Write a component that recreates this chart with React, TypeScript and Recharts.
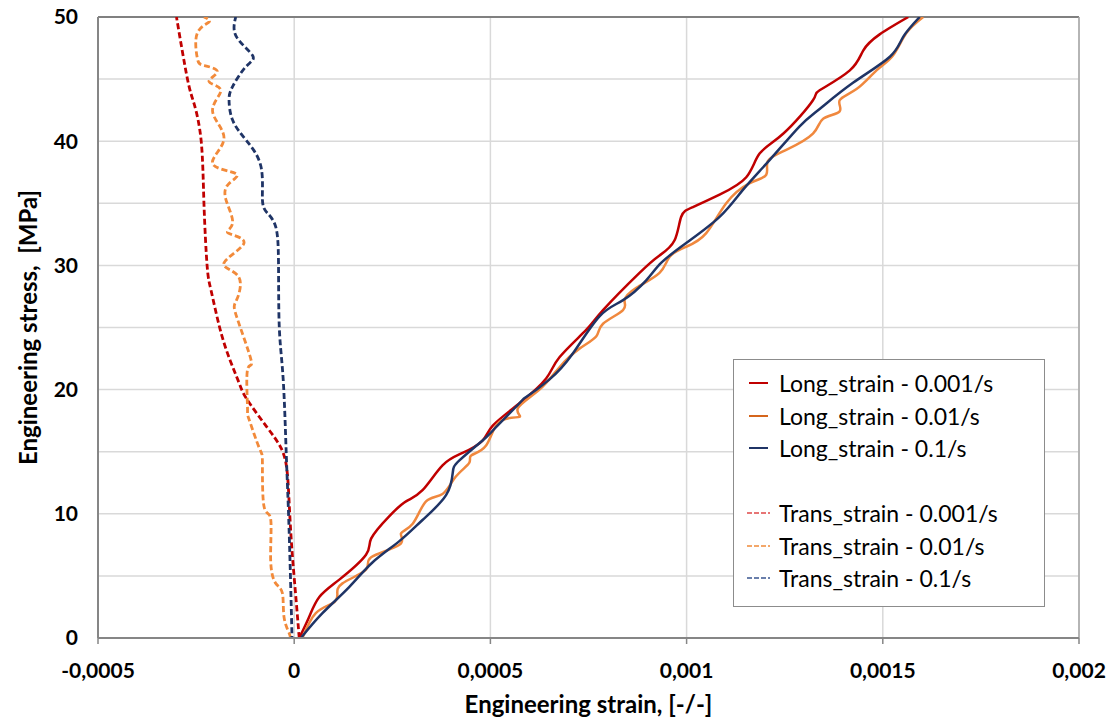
import { LineChart, Line, XAxis, YAxis, CartesianGrid, Legend, ReferenceLine } from 'recharts';

document.body.style.margin = '0';

// [strain, stress]
const longSlow: [number, number][] = [
  [0.0000128, 0], [0.000038, 1.7], [0.000064, 3.3], [0.000115, 4.7], [0.000183, 6.7], [0.000196, 8.0],
  [0.000242, 9.8], [0.000285, 11.0], [0.000327, 11.9], [0.000378, 13.9], [0.000429, 14.9], [0.00048, 15.9],
  [0.000506, 17.1], [0.000574, 18.9], [0.000642, 20.9], [0.000676, 22.6], [0.000744, 24.8], [0.000787, 26.4],
  [0.00088, 29.4], [0.000931, 30.8], [0.000969, 32.0], [0.000986, 33.9], [0.001016, 34.7], [0.001084, 35.7],
  [0.001152, 37.1], [0.001186, 39.0], [0.001246, 40.6], [0.001322, 43.3], [0.001339, 44.1], [0.001416, 45.7],
  [0.00145, 47.3], [0.001492, 48.6], [0.001565, 50],
];

const longMid: [number, number][] = [
  [0.000021, 0], [0.000055, 2.0], [0.000098, 2.8], [0.00011, 3.5], [0.000123, 4.4], [0.000183, 5.5],
  [0.000196, 6.5], [0.000268, 7.5], [0.000272, 8.4], [0.000302, 9.2], [0.000336, 11.0], [0.000378, 11.6],
  [0.000412, 13.0], [0.000446, 14.1], [0.000451, 14.7], [0.000489, 15.5], [0.000523, 17.4], [0.000574, 17.8],
  [0.00057, 18.5], [0.000625, 20.0], [0.000676, 21.8], [0.000727, 23.3], [0.00077, 24.3], [0.000787, 25.3],
  [0.000838, 26.4], [0.000842, 27.2], [0.000872, 28.2], [0.000931, 29.4], [0.000957, 30.7], [0.000999, 31.5],
  [0.00105, 32.6], [0.001101, 35.0], [0.00116, 36.6], [0.001203, 37.3], [0.001207, 38.4], [0.001254, 39.3],
  [0.001322, 40.6], [0.001348, 41.8], [0.00139, 42.4], [0.00139, 43.3], [0.001433, 44.2], [0.001484, 45.7],
  [0.001526, 46.9], [0.00156, 48.7], [0.001603, 50],
];

const longFast: [number, number][] = [
  [0.000017, 0], [0.000072, 2.0], [0.00014, 4.1], [0.0002, 6.1], [0.000268, 7.8], [0.000327, 9.5],
  [0.000387, 11.5], [0.000404, 13.3], [0.000421, 14.3], [0.00048, 15.9], [0.000506, 16.7], [0.000574, 18.9],
  [0.000591, 19.4], [0.00065, 20.8], [0.00071, 22.9], [0.000778, 25.9], [0.000838, 27.2], [0.000897, 28.8],
  [0.000935, 30.2], [0.000999, 31.8], [0.001084, 33.9], [0.001144, 36.1], [0.001212, 38.5], [0.001288, 41.2],
  [0.001339, 42.6], [0.001424, 44.7], [0.001518, 46.8], [0.001552, 48.4], [0.001594, 50],
];

const transSlow: [number, number][] = [
  [0.0000128, 0], [0.000005, 3], [-0.000003, 6], [-0.0000085, 8.4], [-0.000013, 11], [-0.000018, 13.4],
  [-0.000032, 15.2], [-0.00007, 17], [-0.00012, 19.2], [-0.00014, 20.5], [-0.000165, 22.5], [-0.00019, 25],
  [-0.000212, 28], [-0.000222, 30], [-0.00023, 35], [-0.000237, 40], [-0.000255, 43], [-0.000272, 45],
  [-0.0003, 50],
];

const transMid: [number, number][] = [
  [-0.00001, 0], [-0.000013, 0.4], [-0.000026, 1.7], [-0.00003, 3.6], [-0.000047, 4.4], [-0.00006, 6.3],
  [-0.00006, 9.6], [-0.000077, 10.6], [-0.000081, 14.1], [-0.000089, 15.3], [-0.000115, 17.6], [-0.000119, 18.6],
  [-0.000119, 21.6], [-0.00011, 22.4], [-0.000147, 25.9], [-0.000147, 27.2], [-0.000142, 29.1], [-0.000179, 30.2],
  [-0.000128, 31.8], [-0.000168, 32.6], [-0.000157, 33.4], [-0.000174, 35.3], [-0.000166, 36.6], [-0.000149, 37.4],
  [-0.000208, 38.2], [-0.000179, 40.2], [-0.000208, 42.4], [-0.000187, 44.1], [-0.000217, 44.8], [-0.000196, 45.6],
  [-0.00023, 46.1], [-0.000247, 46.7], [-0.000247, 48.7], [-0.000217, 49.6], [-0.00023, 50],
];

const transFast: [number, number][] = [
  [-0.000006, 0], [-0.000006, 0.6], [-0.000013, 8.7], [-0.00002, 14.6], [-0.000028, 20.8], [-0.000038, 25],
  [-0.00004, 30.2], [-0.000047, 33.1], [-0.000068, 34.2], [-0.000081, 35.3], [-0.000085, 38], [-0.000123, 40.1],
  [-0.000157, 41.7], [-0.000166, 43.3], [-0.000157, 44.4], [-0.000123, 46], [-0.000106, 46.9], [-0.000147, 48.4],
  [-0.000149, 50],
];

const xTicks = [-0.0005, 0, 0.0005, 0.001, 0.0015, 0.002];
const yTicks = [0, 5, 10, 15, 20, 25, 30, 35, 40, 45, 50];

const toRows = (pts: [number, number][]) => pts.map(([strain, stress]) => ({ strain, stress }));

const SERIES = [
  { name: 'Long_strain - 0.001/s', data: longSlow, color: '#C00000', swatch: '#C00000', dashed: false },
  { name: 'Long_strain - 0.01/s', data: longMid, color: '#F0883E', swatch: '#D5651C', dashed: false },
  { name: 'Long_strain - 0.1/s', data: longFast, color: '#1F3466', swatch: '#1F3466', dashed: false },
  { name: 'Trans_strain - 0.001/s', data: transSlow, color: '#C00000', swatch: '#E04848', dashed: true },
  { name: 'Trans_strain - 0.01/s', data: transMid, color: '#F28A3A', swatch: '#F08A3A', dashed: true },
  { name: 'Trans_strain - 0.1/s', data: transFast, color: '#1F3466', swatch: '#3A5590', dashed: true },
];

function LegendBox() {
  const row = (s: typeof SERIES[number]) => (
    <div key={s.name} style={{ display: 'flex', alignItems: 'center', height: 32.5 }}>
      <svg width={26} height={10} style={{ marginRight: 6 }}>
        {s.dashed
          ? <line x1={0} y1={5} x2={23} y2={5} stroke={s.swatch} strokeWidth={1.5} strokeDasharray="5 2" />
          : <line x1={2} y1={5} x2={21} y2={5} stroke={s.swatch} strokeWidth={2} />}
      </svg>
      <span>{s.name}</span>
    </div>
  );
  return (
    <div style={{
      width: 312, height: 248, boxSizing: 'border-box', border: '1.5px solid #8C8C8C', background: '#fff',
      padding: '7px 0 0 13px', fontFamily: 'Lato', fontSize: 23, color: '#000',
    }}>
      {SERIES.slice(0, 3).map(row)}
      <div style={{ height: 32.5 }} />
      {SERIES.slice(3).map(row)}
    </div>
  );
}

export default function App() {
  return (
    <div style={{ fontFamily: 'Lato', width: 1112, height: 719 }}>
      <LineChart width={1112} height={719} margin={{ top: 17, right: 33, left: 0, bottom: 0 }}>
        <CartesianGrid stroke="#D9D9D9" strokeWidth={1.5} />
        <XAxis
          type="number" dataKey="strain" domain={[-0.0005, 0.002]} ticks={xTicks} allowDataOverflow
          tickFormatter={(v) => String(v).replace('.', ',')}
          tick={{ fill: '#000', fontSize: 21, fontWeight: 700 }}
          axisLine={{ stroke: '#868686', strokeWidth: 2 }} tickLine={{ stroke: '#868686', strokeWidth: 1.5 }}
          tickSize={6} tickMargin={19} height={81}
          label={{ value: 'Engineering strain, [-/-]', position: 'insideBottom', offset: 6, fill: '#000', fontSize: 24, fontWeight: 700 }}
        />
        <YAxis
          type="number" domain={[0, 50]} ticks={yTicks} allowDataOverflow
          tickFormatter={(v) => (v % 10 === 0 ? String(v) : '')}
          tick={{ fill: '#000', fontSize: 21, fontWeight: 700 }}
          axisLine={{ stroke: '#868686', strokeWidth: 2 }} tickLine={false}
          tickSize={10} tickMargin={10} width={98}
          label={{ value: 'Engineering stress,\u00A0 [MPa]', angle: -90, position: 'insideLeft', offset: 28, fill: '#000', fontSize: 24, fontWeight: 700, style: { textAnchor: 'middle' } }}
        />
        <ReferenceLine y={50} stroke="#808080" strokeWidth={2} />
        <ReferenceLine x={0.002} stroke="#A6A6A6" strokeWidth={1.5} />
        {SERIES.map((s) => (
          <Line
            key={s.name} name={s.name} data={toRows(s.data)} dataKey="stress" type="natural"
            stroke={s.color} strokeWidth={s.dashed ? 2.8 : 2.5} strokeDasharray={s.dashed ? '6 3' : undefined}
            dot={false} activeDot={false} isAnimationActive={false}
          />
        ))}
        <Legend
          layout="horizontal" verticalAlign="middle" align="center"
          content={() => <LegendBox />}
          wrapperStyle={{ left: 733, top: 359, width: 312, height: 248 }}
        />
      </LineChart>
    </div>
  );
}
